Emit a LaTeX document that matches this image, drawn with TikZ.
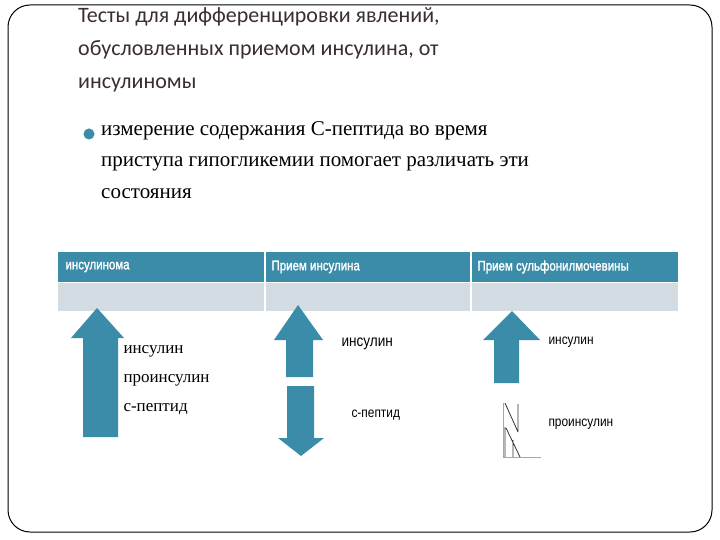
\documentclass[tikz,border=0pt]{standalone}
\usepackage{fontspec}
\setmainfont{Liberation Serif}
\newfontfamily\titlefont{Carlito}
\newfontfamily\hdrfont{Liberation Sans}[FakeStretch=0.82,FakeBold=1.5]
\newfontfamily\sansf{Liberation Sans}[FakeStretch=0.85]
\definecolor{teal}{HTML}{3A8CA8}
\definecolor{rowgray}{HTML}{D3DCE3}
\definecolor{titlec}{HTML}{3A2E2E}
\begin{document}
\begin{tikzpicture}[x=1pt,y=-1pt,
  arr/.style={fill=teal,draw=none},
  hdr/.style={anchor=west,text=white,font=\hdrfont\fontsize{14}{14}\selectfont},
  lbl/.style={anchor=west,font=\fontsize{17}{17}\selectfont},
  sl/.style={anchor=west,font=\sansf\fontsize{16}{16}\selectfont}]
\useasboundingbox (0,0) rectangle (720,540);
\fill[white] (0,0) rectangle (720,540);
\draw[line width=1pt,rounded corners=22pt] (8,5) rectangle (712,532);
\node[anchor=north west,align=left,text=titlec,font=\titlefont\fontsize{22}{33}\selectfont,inner sep=0] (title) at (78,7)
 {Тесты для дифференцировки явлений,\\обусловленных приемом инсулина, от\\инсулиномы};
\fill[teal] (89,134) circle (5.5);
\node[anchor=north west,align=left,font=\fontsize{21}{31.5}\selectfont,inner sep=0] (bul) at (101,121)
 {измерение содержания С-пептида во время\\приступа гипогликемии помогает различать эти\\состояния};
% table
\fill[teal] (58,252) rectangle (678,282);
\fill[rowgray] (58,283) rectangle (678,311);
\draw[white,line width=1.5pt] (265,250) -- (265,312) (471,250) -- (471,312) (58,282.5) -- (678,282.5);
\node[hdr] (h1) at (62,267) {инсулинома};
\node[hdr] (h2) at (268,267) {Прием инсулина};
\node[hdr] (h3) at (474,267) {Прием сульфонилмочевины};
% arrows
\fill[arr] (97,308) -- (124,338) -- (118,338) -- (118,437) -- (83,437) -- (83,338) -- (71,338) -- cycle;
\fill[arr] (298,305) -- (323,340) -- (313,340) -- (313,377) -- (286,377) -- (286,340) -- (274,340) -- cycle;
\fill[arr] (301,456) -- (324,438) -- (314,438) -- (314,386) -- (287,386) -- (287,438) -- (278,438) -- cycle;
\fill[arr] (512,311) -- (540,340) -- (519,340) -- (519,383) -- (494,383) -- (494,340) -- (483,340) -- cycle;
\node[lbl] (a1) at (120,351) {инсулин};
\node[lbl] (a2) at (120,380) {проинсулин};
\node[lbl] (a3) at (120,409) {с-пептид};
\node[sl] (b1) at (338,344) {инсулин};
\node[sl,font=\sansf\fontsize{14}{14}\selectfont] (b2) at (348,415) {с-пептид};
\node[sl,font=\sansf\fontsize{14}{14}\selectfont] (c1) at (545,342) {инсулин};
\node[sl,font=\sansf\fontsize{14}{14}\selectfont] (c2) at (545,424) {проинсулин};
% N glyph
\draw[gray!70,line width=0.8pt] (503,403) -- (503,457) -- (541,457);
\draw[black!80,line width=0.8pt] (505,403) -- (518,432) (518,404) -- (518,432) (505,427) -- (505,457) (506,428) -- (520,457) (513,440) -- (513,457);
\end{tikzpicture}
\end{document}
